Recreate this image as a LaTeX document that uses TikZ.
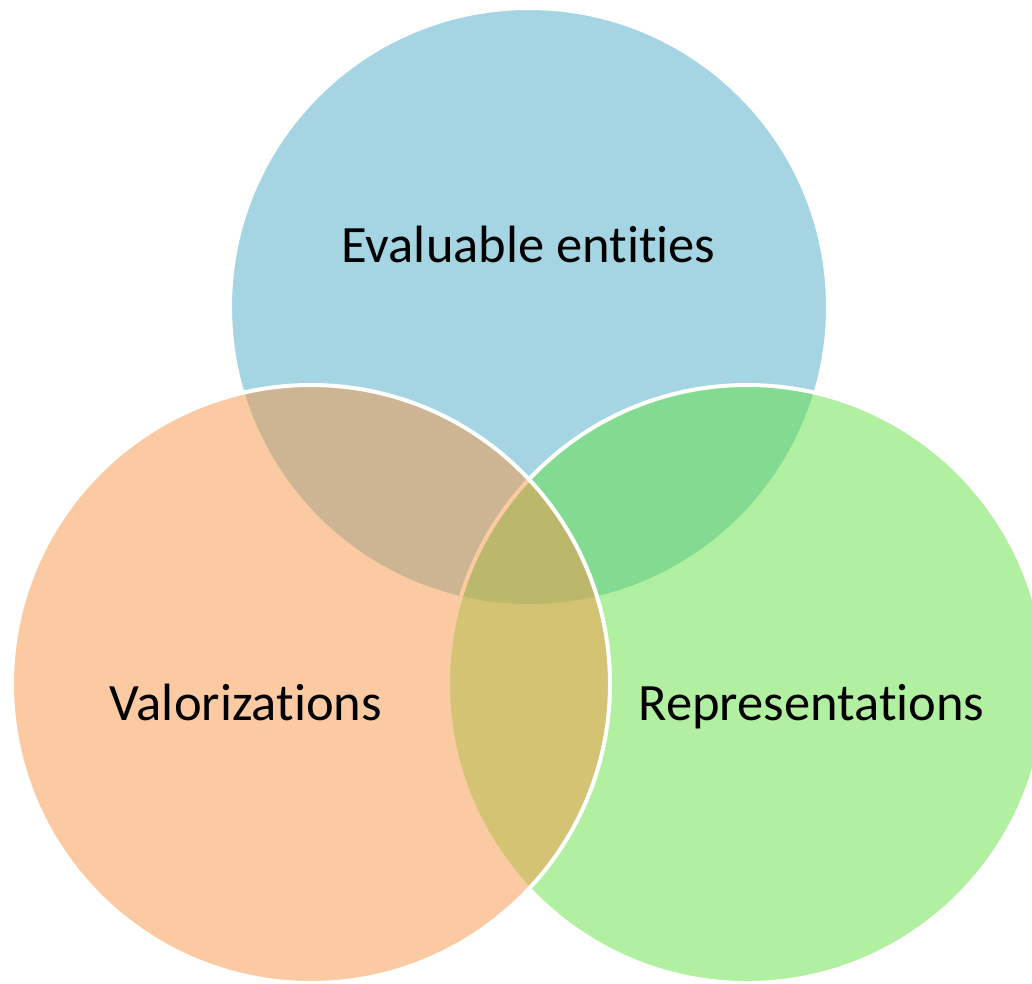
\documentclass[tikz,border=0pt]{standalone}
\usepackage{fontspec}
\setmainfont{Carlito}[RawFeature={-liga}]
\definecolor{cblue}{HTML}{4BACC6}
\definecolor{cgreen}{HTML}{61E141}
\definecolor{corange}{HTML}{F79646}
\begin{document}
\begin{tikzpicture}[x=1pt,y=-1pt,
  venn/.style={circle, minimum size=598pt, inner sep=0pt, draw=white, line width=4pt, fill opacity=0.5, draw opacity=1},
  lbl/.style={font=\fontsize{52.5}{63}\selectfont, text=black, inner sep=0pt, anchor=base}]
\useasboundingbox (0,0) rectangle (1032,983);
\clip (0,0) rectangle (1032,983);
\node[venn, fill=cblue] (ev) at (529,307) {};
\node[venn, fill=cgreen] (rep) at (747,684) {};
\node[venn, fill=corange] (val) at (311,684) {};
\node[lbl] (tev) at (528.5,262) {Evaluable entities};
\node[lbl] (tval) at (246,720) {Valorizations};
\node[lbl] (trep) at (811.5,720) {Representations};
\end{tikzpicture}
\end{document}
